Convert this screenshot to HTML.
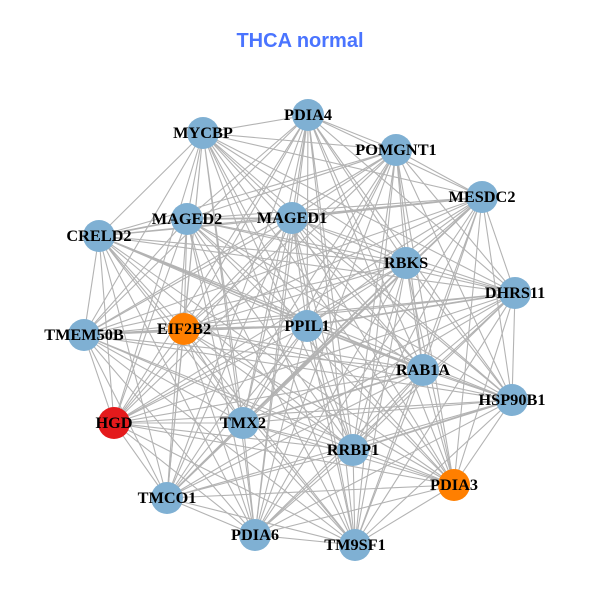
<!DOCTYPE html>
<html><head><meta charset="utf-8"><title>THCA normal</title>
<style>html,body{margin:0;padding:0;background:#fff}svg{display:block}
.l{font:bold 16.3px "Liberation Serif",serif;fill:#000;text-anchor:middle}</style></head>
<body>
<svg width="600" height="600" viewBox="0 0 600 600">
<rect width="600" height="600" fill="#fff"/>
<g fill="none" stroke="#b3b3b3" stroke-width="1.1">
<path d="M203 133L308 115L203 133L396 150L203 133L482 197L203 133L515 293L203 133L406 263L203 133L187 219L203 133L292 218L203 133L99 236L203 133L84 335L203 133L184 329L203 133L307 326L203 133L114 423L203 133L243 423L203 133L167 498L203 133L255 535L203 133L355 545L203 133L353 450L203 133L454 485L203 133L512 400L203 133L423 370"/>
<path d="M308 115L396 150L308 115L482 197L308 115L515 293L308 115L406 263L308 115L187 219L308 115L292 218L308 115L84 335L308 115L184 329L308 115L307 326L308 115L114 423L308 115L243 423L308 115L167 498L308 115L255 535L308 115L355 545L308 115L353 450L308 115L454 485L308 115L512 400L308 115L423 370"/>
<path d="M396 150L482 197L396 150L515 293L396 150L406 263L396 150L187 219L396 150L292 218L396 150L99 236L396 150L84 335L396 150L184 329L396 150L307 326L396 150L114 423L396 150L243 423L396 150L167 498L396 150L255 535L396 150L355 545L396 150L353 450L396 150L454 485L396 150L512 400L396 150L423 370"/>
<path d="M482 197L515 293L482 197L406 263L482 197L187 219L482 197L292 218L482 197L99 236L482 197L84 335L482 197L184 329L482 197L307 326L482 197L114 423L482 197L243 423L482 197L167 498L482 197L255 535L482 197L355 545L482 197L353 450L482 197L454 485L482 197L512 400L482 197L423 370"/>
<path d="M515 293L406 263L515 293L187 219L515 293L292 218L515 293L99 236L515 293L84 335L515 293L184 329L515 293L307 326L515 293L114 423L515 293L243 423L515 293L167 498L515 293L255 535L515 293L355 545L515 293L353 450L515 293L454 485L515 293L512 400L515 293L423 370"/>
<path d="M406 263L187 219L406 263L292 218L406 263L99 236L406 263L84 335L406 263L184 329L406 263L307 326L406 263L114 423L406 263L243 423L406 263L167 498L406 263L255 535L406 263L355 545L406 263L353 450L406 263L454 485L406 263L512 400L406 263L423 370"/>
<path d="M187 219L292 218L187 219L99 236L187 219L84 335L187 219L184 329L187 219L307 326L187 219L114 423L187 219L243 423L187 219L167 498L187 219L255 535L187 219L355 545L187 219L353 450L187 219L454 485L187 219L512 400L187 219L423 370"/>
<path d="M292 218L99 236L292 218L84 335L292 218L184 329L292 218L307 326L292 218L114 423L292 218L243 423L292 218L167 498L292 218L255 535L292 218L355 545L292 218L353 450L292 218L454 485L292 218L512 400L292 218L423 370"/>
<path d="M99 236L84 335L99 236L184 329L99 236L307 326L99 236L114 423L99 236L243 423L99 236L167 498L99 236L255 535L99 236L355 545L99 236L353 450L99 236L454 485L99 236L512 400L99 236L423 370"/>
<path d="M84 335L184 329L84 335L307 326L84 335L114 423L84 335L243 423L84 335L167 498L84 335L255 535L84 335L355 545L84 335L353 450L84 335L454 485L84 335L512 400L84 335L423 370"/>
<path d="M184 329L307 326L184 329L114 423L184 329L243 423L184 329L167 498L184 329L255 535L184 329L355 545L184 329L353 450L184 329L454 485L184 329L512 400L184 329L423 370"/>
<path d="M307 326L114 423L307 326L243 423L307 326L167 498L307 326L255 535L307 326L355 545L307 326L353 450L307 326L454 485L307 326L512 400L307 326L423 370"/>
<path d="M114 423L243 423L114 423L167 498L114 423L255 535L114 423L355 545L114 423L353 450L114 423L454 485L114 423L512 400L114 423L423 370"/>
<path d="M243 423L167 498L243 423L255 535L243 423L355 545L243 423L353 450L243 423L454 485L243 423L512 400L243 423L423 370"/>
<path d="M167 498L255 535L167 498L355 545L167 498L353 450L167 498L454 485L167 498L512 400L167 498L423 370"/>
<path d="M255 535L355 545L255 535L353 450L255 535L454 485L255 535L512 400L255 535L423 370"/>
<path d="M355 545L353 450L355 545L454 485L355 545L512 400L355 545L423 370"/>
<path d="M353 450L454 485L353 450L512 400L353 450L423 370"/>
<path d="M454 485L512 400L454 485L423 370"/>
<path d="M512 400L423 370"/>
</g>
<g fill="none" stroke="#b3b3b3" stroke-width="1.7">
<path d="M187 219L292 218M292 218L482 197M99 236L423 370M243 423L406 263M243 423L482 197M167 498L243 423M84 335L184 329M184 329L307 326M307 326L515 293M353 450L512 400M99 236L187 219M243 423L423 370"/>
</g>
<g fill="#7fb0d3">
<circle cx="203" cy="133" r="16"/><circle cx="308" cy="115" r="16"/><circle cx="396" cy="150" r="16"/><circle cx="482" cy="197" r="16"/><circle cx="515" cy="293" r="16"/><circle cx="406" cy="263" r="16"/><circle cx="187" cy="219" r="16"/><circle cx="292" cy="218" r="16"/><circle cx="99" cy="236" r="16"/><circle cx="84" cy="335" r="16"/><circle cx="307" cy="326" r="16"/><circle cx="243" cy="423" r="16"/><circle cx="167" cy="498" r="16"/><circle cx="255" cy="535" r="16"/><circle cx="355" cy="545" r="16"/><circle cx="353" cy="450" r="16"/><circle cx="512" cy="400" r="16"/><circle cx="423" cy="370" r="16"/>
</g>
<circle cx="184" cy="329" r="16" fill="#ff7f00"/>
<circle cx="454" cy="485" r="16" fill="#ff7f00"/>
<circle cx="114" cy="423" r="16" fill="#e41a1c"/>
<g>
<text class="l" x="203" y="138">MYCBP</text>
<text class="l" x="308" y="120">PDIA4</text>
<text class="l" x="396" y="155">POMGNT1</text>
<text class="l" x="482" y="202">MESDC2</text>
<text class="l" x="515" y="298">DHRS11</text>
<text class="l" x="406" y="268">RBKS</text>
<text class="l" x="187" y="224">MAGED2</text>
<text class="l" x="292" y="223">MAGED1</text>
<text class="l" x="99" y="241">CRELD2</text>
<text class="l" x="84" y="340">TMEM50B</text>
<text class="l" x="184" y="334">EIF2B2</text>
<text class="l" x="307" y="331">PPIL1</text>
<text class="l" x="114" y="428">HGD</text>
<text class="l" x="243" y="428">TMX2</text>
<text class="l" x="167" y="503">TMCO1</text>
<text class="l" x="255" y="540">PDIA6</text>
<text class="l" x="355" y="550">TM9SF1</text>
<text class="l" x="353" y="455">RRBP1</text>
<text class="l" x="454" y="490">PDIA3</text>
<text class="l" x="512" y="405">HSP90B1</text>
<text class="l" x="423" y="375">RAB1A</text>
</g>
<text x="300" y="47" text-anchor="middle" style="font:bold 20px 'Liberation Sans',sans-serif" fill="#4a74ff">THCA normal</text>
</svg>
</body></html>
